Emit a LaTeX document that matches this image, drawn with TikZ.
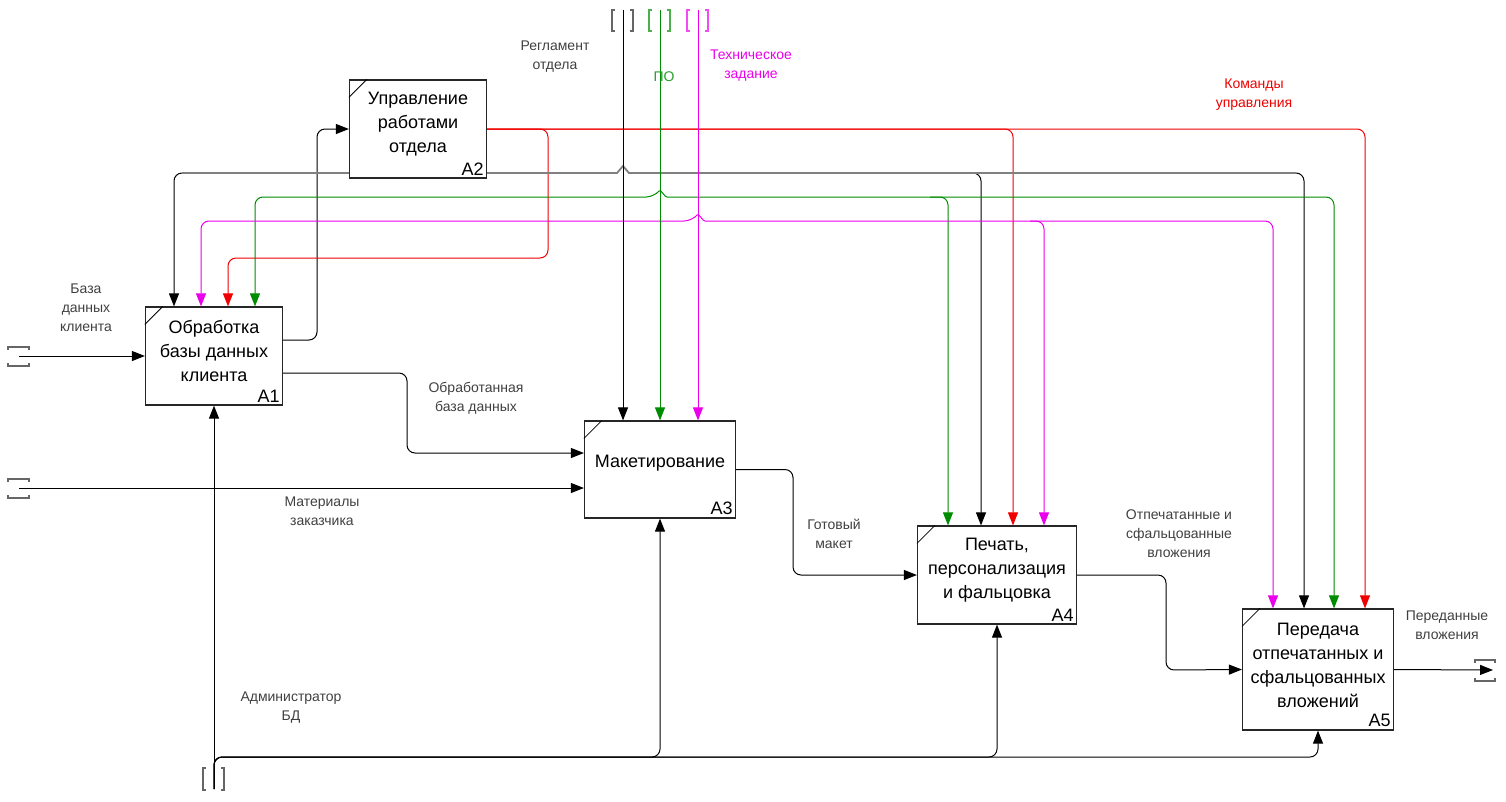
\documentclass[tikz,border=0pt]{standalone}
\usepackage{fontspec}
\setmainfont{Liberation Sans}
\usepackage{tikz}
\usetikzlibrary{arrows.meta}
\definecolor{cred}{RGB}{240,0,0}
\definecolor{cgreen}{RGB}{0,140,0}
\definecolor{cpink}{RGB}{235,0,235}
\definecolor{lblgray}{RGB}{64,64,64}

\begin{document}
\begin{tikzpicture}[x=1pt,y=-1pt,>={Triangle[length=13pt,width=10pt]},line width=1pt]
  \tikzstyle{func}=[rectangle,draw=black!85,fill=white,line width=1.2pt,
                    minimum width=137pt,minimum height=98pt,inner sep=0pt]
  \tikzstyle{title}=[align=center,font=\fontsize{18}{24}\selectfont]
  \tikzstyle{num}=[anchor=south east,inner sep=3pt,font=\fontsize{18}{20}\selectfont]
  \tikzstyle{lbl}=[align=center,text=lblgray,font=\fontsize{14}{19}\selectfont]
  \tikzstyle{link}=[->,rounded corners=8pt]
  \tikzstyle{bus}=[draw=black!50,line width=1.8pt]
  \tikzstyle{tunnel}=[line width=1.2pt,draw=black!60]

  \useasboundingbox (0,0) rectangle (1506,801);

  % functions
  \node[func] (A1) at (214,356) {};
  \node[func] (A2) at (418,129) {};
  \node[func,minimum width=151pt,minimum height=97pt] (A3) at (660,469.5) {};
  \node[func,minimum width=159pt] (A4) at (997,575) {};
  \node[func,minimum width=151pt,minimum height=121pt] (A5) at (1318,669.5) {};

  \node[title] (T1) at (214,351) {Обработка\\базы данных\\клиента};
  \node[title] (T2) at (418,124) {Управление\\работами\\отдела};
  \node[title] (T3) at (660,463) {Макетирование};
  \node[title] (T4) at (997,570) {Печать,\\персонализация\\и фальцовка};
  \node[title] (T5) at (1318,665) {Передача\\отпечатанных и\\сфальцованных\\вложений};

  \node[num] (N1) at (A1.south east) {A1};
  \node[num] (N2) at (A2.south east) {A2};
  \node[num] (N3) at (A3.south east) {A3};
  \node[num] (N4) at (A4.south east) {A4};
  \node[num] (N5) at (A5.south east) {A5};

  \draw[line width=0.8pt] (A1.north west) ++(0,18) -- ++(18,-18);
  \draw[line width=0.8pt] (A2.north west) ++(0,18) -- ++(18,-18);
  \draw[line width=0.8pt] (A3.north west) ++(0,18) -- ++(18,-18);
  \draw[line width=0.8pt] (A4.north west) ++(0,18) -- ++(18,-18);
  \draw[line width=0.8pt] (A5.north west) ++(0,18) -- ++(18,-18);

  % tunnels
  \coordinate (inBD) at (19,356);
  \coordinate (inMat) at (19,488);
  \coordinate (ctrlReg) at (623,10);
  \coordinate (ctrlPO) at (660,10);
  \coordinate (ctrlTZ) at (698,10);
  \coordinate (mechAdm) at (214,789);
  \coordinate (outTr) at (1493,670);

  \draw[tunnel] (inBD) ++(-11,-6) -- ++(0,-3) -- ++(21,0) -- ++(0,3);
  \draw[tunnel] (inBD) ++(-11,7) -- ++(0,3) -- ++(21,0) -- ++(0,-3);
  \draw[tunnel] (inMat) ++(-11,-6) -- ++(0,-3) -- ++(21,0) -- ++(0,3);
  \draw[tunnel] (inMat) ++(-11,7) -- ++(0,3) -- ++(21,0) -- ++(0,-3);
  \draw[tunnel] (outTr) ++(-18,-7) -- ++(0,-3) -- ++(20,0) -- ++(0,3);
  \draw[tunnel] (outTr) ++(-18,8) -- ++(0,3) -- ++(20,0) -- ++(0,-3);
  \draw[tunnel] (ctrlReg) ++(-8,0) -- ++(-3,0) -- ++(0,21) -- ++(3,0);
  \draw[tunnel] (ctrlReg) ++(7,0) -- ++(3,0) -- ++(0,21) -- ++(-3,0);
  \draw[tunnel,draw=cgreen!70] (ctrlPO) ++(-8,0) -- ++(-3,0) -- ++(0,21) -- ++(3,0);
  \draw[tunnel,draw=cgreen!70] (ctrlPO) ++(7,0) -- ++(3,0) -- ++(0,21) -- ++(-3,0);
  \draw[tunnel,draw=cpink!70] (ctrlTZ) ++(-8,0) -- ++(-3,0) -- ++(0,21) -- ++(3,0);
  \draw[tunnel,draw=cpink!70] (ctrlTZ) ++(7,0) -- ++(3,0) -- ++(0,21) -- ++(-3,0);
  \draw[tunnel] (mechAdm) ++(-8,-21) -- ++(-3,0) -- ++(0,22) -- ++(3,0);
  \draw[tunnel] (mechAdm) ++(7,-21) -- ++(3,0) -- ++(0,22) -- ++(-3,0);

  % inputs and outputs
  \draw[link] (inBD) -- (A1.west);
  \draw[link] (inMat) -- (A3.west |- inMat);
  \draw[link] (A1.east |- 0,340) -| (317,129) -- (A2.west);
  \draw[link] (A1.east |- 0,373) -| (407,453) -- (A3.west |- 0,453);
  \draw[link] (A3.east) -| (793,575) -- (A4.west);
  \draw[link] (A4.east) -| (1166,670) -- (A5.west);
  \draw[link] (A5.east) -- (outTr);

  % controls
  \draw[link,cred] (A2.east) -| (A5.north -| 1365,0);
  \draw[link,cred] (A2.east) -| (A4.north -| 1013,0);
  \draw[link,cred] (A2.east) -| (548,258) -| (A1.north -| 228,0);

  \draw[link] (A2.west |- 0,173) -| (A1.north -| 174,0);
  \draw[link] (1280,173) -| (A5.north -| 1304,0);
  \draw[link] (960,173) -| (A4.north -| 981,0);
  \draw[bus] (A2.east |- 0,173) -- (617,173) -- (623,166) -- (629,173) -- (1296,173);
  \draw[bus] (A2.west |- 0,173) -- (182,173);

  \draw[link,<->,cgreen] (A1.north -| 255,0) |- (654,197) [rounded corners=1pt]
       -- (660,190) -- (666,197) [rounded corners=8pt] -| (A5.north -| 1334,0);
  \draw[link,cgreen] (930,197) -| (A4.north -| 948,0);
  \draw[link,<->,cpink] (A1.north -| 201,0) |- (692,221) [rounded corners=1pt]
       -- (698,214) -- (704,221) [rounded corners=8pt] -| (A5.north -| 1273,0);
  \draw[link,cpink] (1030,221) -| (A4.north -| 1044,0);

  \draw[link] (ctrlReg) -- (A3.north -| ctrlReg);
  \draw[link,cgreen] (ctrlPO) -- (A3.north -| ctrlPO);
  \draw[link,cpink] (ctrlTZ) -- (A3.north -| ctrlTZ);

  % mechanisms
  \draw[link] (mechAdm) -- (A1.south);
  \draw[link] (mechAdm) |- (A3.south |- 0,757) -- (A3.south);
  \draw[link] (mechAdm) |- (A4.south |- 0,757) -- (A4.south);
  \draw[link] (mechAdm) |- (A5.south |- 0,757) -- (A5.south);

  % labels
  \node[lbl] (lBD) at (86,308) {База\\данных\\клиента};
  \node[lbl] (lReg) at (555,57) {Регламент\\отдела};
  \node[lbl,text=cgreen!85] (lPO) at (664,77) {ПО};
  \node[lbl,text=cpink] (lTZ) at (751,66) {Техническое\\задание};
  \node[lbl,text=cred] (lCmd) at (1254,95) {Команды\\управления};
  \node[lbl] (lObr) at (476,398) {Обработанная\\база данных};
  \node[lbl] (lMat) at (322,511) {Материалы\\заказчика};
  \node[lbl] (lAdm) at (291,708) {Администратор\\БД};
  \node[lbl] (lMak) at (834,534) {Готовый\\макет};
  \node[lbl] (lOtp) at (1179,534) {Отпечатанные и\\сфальцованные\\вложения};
  \node[lbl] (lPer) at (1447,625) {Переданные\\вложения};
\end{tikzpicture}
\end{document}
